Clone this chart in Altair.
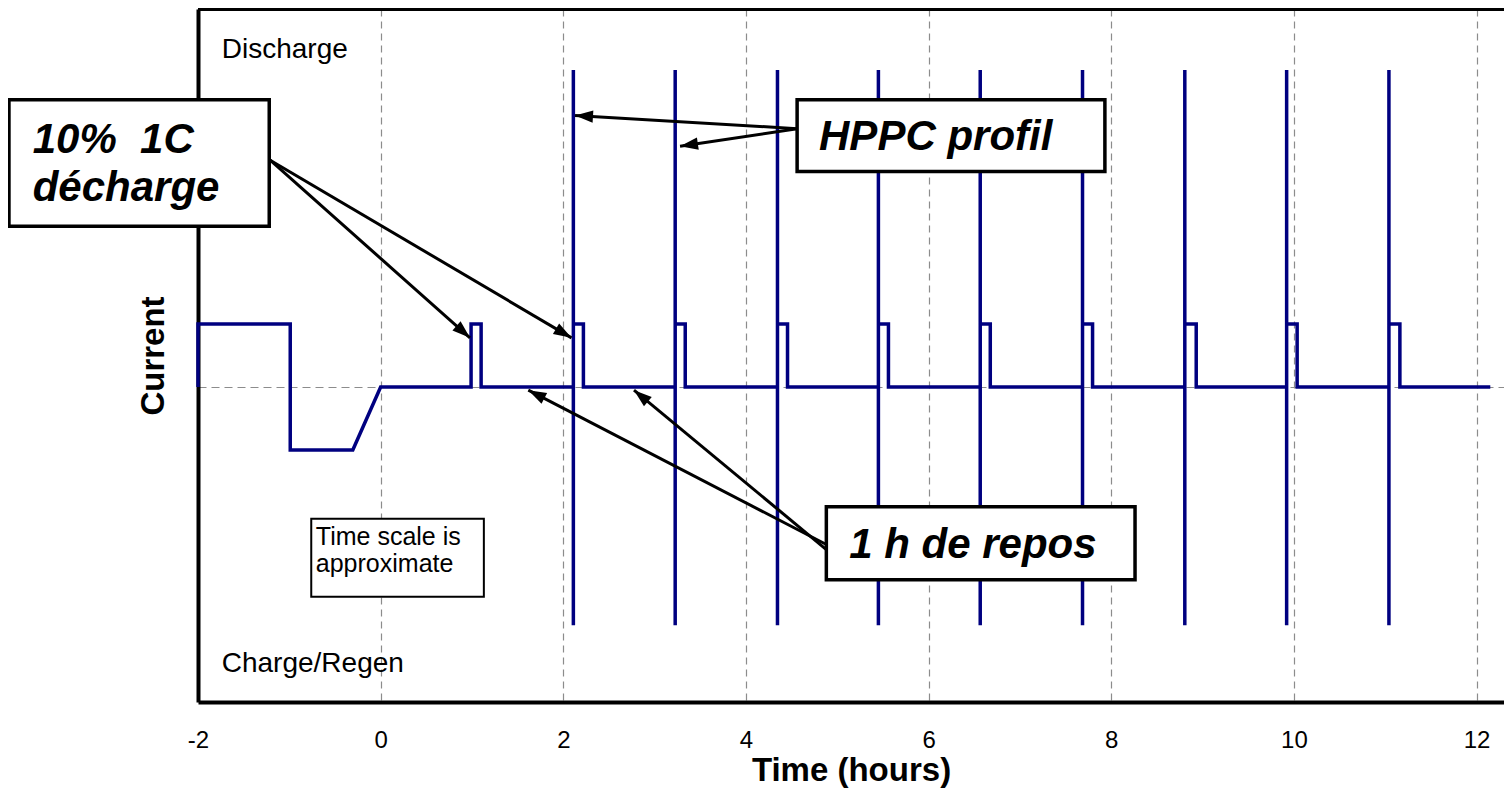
import math
import altair as alt
import pandas as pd

FONT = "Liberation Sans"

# ---------------- data: current profile (time in hours, current in units of 1C) -------------
pre_x = [-2.0, -2.0, -0.99, -0.99, -0.305, 0.0]
pre_y = [0.0, 1.0, 1.0, -1.0, -1.0, 0.0]
first_pulse_x = [0.99, 0.99, 1.10, 1.10]
first_pulse_y = [0.0, 1.0, 1.0, 0.0]
hppc_x = [2.11, 3.225, 4.345, 5.45, 6.565, 7.685, 8.805, 9.92, 11.04]
pulse_end_x = [2.22, 3.335, 4.455, 5.56, 6.675, 7.795, 8.93, 10.035, 11.16]
hppc_top = 5.03
hppc_bottom = -3.78
discharge_level = 1.0
end_x = 12.15
end_y = 0.0

# axis ticks
x_ticks = [-2, 0, 2, 4, 6, 8, 10, 12]
X_MIN, X_MAX = -2.0, 12.3
Y_MIN, Y_MAX = -5.0, 6.0

# ---------------- annotations (data coordinates) ----------------
box_x1 = [-4.07, 4.56, 4.88]
box_x2 = [-1.22, 7.93, 8.26]
box_y1 = [4.56, 4.56, -1.90]
box_y2 = [2.55, 3.42, -3.06]

note_x1 = [-0.76]
note_x2 = [1.13]
note_y1 = [-2.09]
note_y2 = [-3.33]

ann_text = ["10%\u00a0 1C", "décharge", "HPPC profil", "1 h de repos"]
ann_x = [-3.81, -3.81, 4.80, 5.13]
ann_y = [3.72, 2.95, 3.76, -2.71]

note_text = ["Time scale is", "approximate"]
note_tx = [-0.71, -0.71]
note_ty = [-2.50, -2.93]

side_text = ["Discharge", "Charge/Regen"]
side_x = [-1.74, -1.74]
side_y = [5.23, -4.53]

arrow_x0 = [-1.21, -1.21, 4.56, 4.56, 4.88, 4.88]
arrow_y0 = [3.60, 3.60, 4.10, 4.10, -2.50, -2.58]
arrow_x1 = [0.978, 2.09, 2.128, 3.278, 1.617, 2.774]
arrow_y1 = [0.78, 0.78, 4.31, 3.82, -0.05, -0.05]

# ---------------- layout ----------------
W, H = 1306, 693
PX_X = W / (X_MAX - X_MIN)
PX_Y = H / (Y_MAX - Y_MIN)

# build profile table
px_, py_ = list(pre_x) + list(first_pulse_x), list(pre_y) + list(first_pulse_y)
for h, e in zip(hppc_x, pulse_end_x):
    px_ += [h, h, h, h, e, e]
    py_ += [0.0, hppc_top, hppc_bottom, discharge_level, discharge_level, 0.0]
px_.append(end_x)
py_.append(end_y)
profile = pd.DataFrame({"x": px_, "y": py_, "i": list(range(len(px_)))})

boxes = pd.DataFrame({"x": box_x1, "x2": box_x2, "y": box_y1, "y2": box_y2})
note_box = pd.DataFrame({"x": note_x1, "x2": note_x2, "y": note_y1, "y2": note_y2})
ann = pd.DataFrame({"x": ann_x, "y": ann_y, "t": ann_text})
notes = pd.DataFrame({"x": note_tx, "y": note_ty, "t": note_text})
sides = pd.DataFrame({"x": side_x, "y": side_y, "t": side_text})

angles = []
for x0, y0, x1, y1 in zip(arrow_x0, arrow_y0, arrow_x1, arrow_y1):
    dx = (x1 - x0) * PX_X
    dy = -(y1 - y0) * PX_Y
    angles.append(math.degrees(math.atan2(dx, -dy)) % 360)
arrows = pd.DataFrame({"x": arrow_x0, "y": arrow_y0, "x2": arrow_x1, "y2": arrow_y1, "a": angles})
heads = pd.DataFrame({"x": arrow_x1, "y": arrow_y1, "a": angles})
frame_top = pd.DataFrame({"x": [X_MIN], "x2": [X_MAX], "y": [Y_MAX]})

xs = alt.Scale(domain=[X_MIN, X_MAX], nice=False, zero=False)
ys = alt.Scale(domain=[Y_MIN, Y_MAX], nice=False, zero=False)

x_axis = alt.Axis(
    values=x_ticks, labelExpr="'' + datum.value", title="Time (hours)",
    grid=True, gridDash=[7, 5], gridColor="#8c8c8c", gridWidth=1.2,
    ticks=False, labelPadding=26, labelFontSize=24, labelFont=FONT,
    labelColor="black", labelFlush=False, titleFont=FONT, titleFontSize=33,
    titleFontWeight="bold", titleColor="black", titlePadding=2,
    domainColor="black", domainWidth=4,
)
y_axis = alt.Axis(
    values=[0], labels=False, ticks=False, grid=True,
    gridDash=[8, 5], gridColor="#8c8c8c", gridWidth=1.2, title="Current",
    titleFont=FONT, titleFontSize=33, titleFontWeight="bold", titleColor="black",
    titlePadding=28, domainColor="black", domainWidth=4,
)

X = alt.X("x:Q", scale=xs, axis=x_axis)
Y = alt.Y("y:Q", scale=ys, axis=y_axis)

line = alt.Chart(profile).mark_line(color="#000080", strokeWidth=3.5, strokeJoin="miter").encode(
    x=X, y=Y, order=alt.Order("i:Q"),
)

top = alt.Chart(frame_top).mark_rule(color="black", strokeWidth=4).encode(x=X, x2="x2:Q", y=Y)

arrow_lines = alt.Chart(arrows).mark_rule(color="black", strokeWidth=3).encode(
    x=X, x2="x2:Q", y=Y, y2="y2:Q",
)
arrow_heads = alt.Chart(heads).mark_point(
    shape="M0,0L0.34,1L-0.34,1Z", filled=True, color="black", opacity=1, size=1296,
).encode(x=X, y=Y, angle=alt.Angle("a:Q", scale=None))

box_marks = alt.Chart(boxes).mark_rect(fill="white", stroke="black", strokeWidth=3.5).encode(
    x=X, x2="x2:Q", y=Y, y2="y2:Q",
)
note_marks = alt.Chart(note_box).mark_rect(fill="white", stroke="black", strokeWidth=2).encode(
    x=X, x2="x2:Q", y=Y, y2="y2:Q",
)

ann_marks = alt.Chart(ann).mark_text(
    align="left", baseline="alphabetic", font=FONT, fontSize=42,
    fontStyle="italic", fontWeight="bold", color="black",
).encode(x=X, y=Y, text="t:N")

note_texts = alt.Chart(notes).mark_text(
    align="left", baseline="alphabetic", font=FONT, fontSize=25, color="black",
).encode(x=X, y=Y, text="t:N")

side_texts = alt.Chart(sides).mark_text(
    align="left", baseline="alphabetic", font=FONT, fontSize=28, color="black",
).encode(x=X, y=Y, text="t:N")

chart = alt.layer(
    line, top, arrow_lines, arrow_heads, box_marks, note_marks, ann_marks, note_texts, side_texts
).properties(
    width=W, height=H,
    padding={"left": 190, "top": 1, "right": 0, "bottom": 87},
    autosize=alt.AutoSizeParams(type="none"),
    background="white",
).configure_view(strokeWidth=0)

chart.save("out.html", embed_options={"renderer": "svg", "actions": False})
